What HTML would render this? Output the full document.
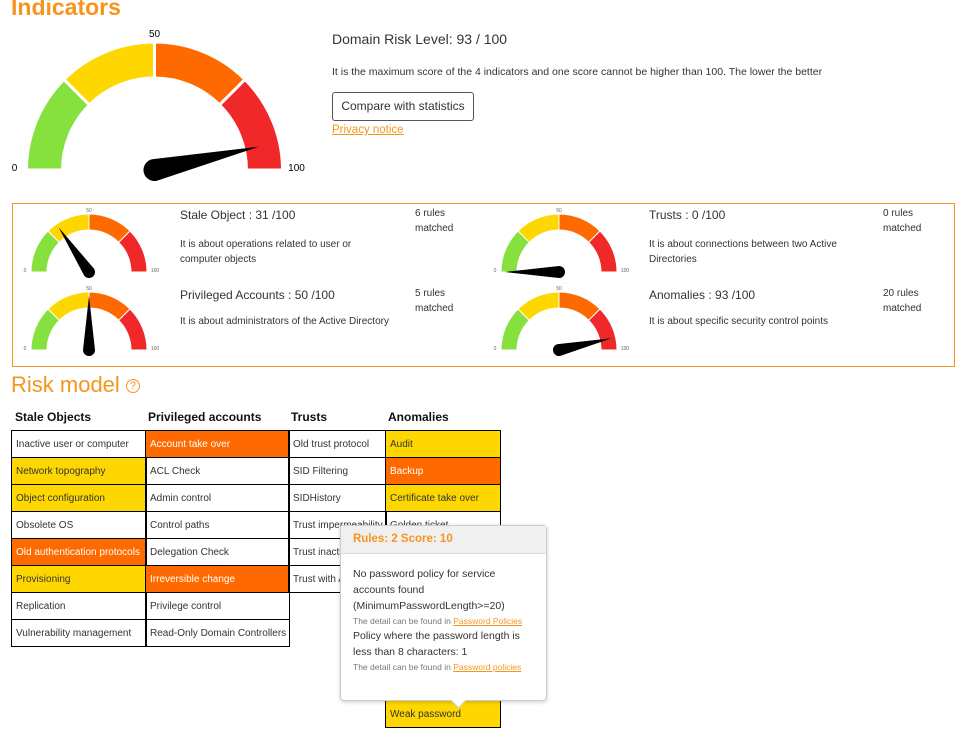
<!DOCTYPE html>
<html><head><meta charset="utf-8">
<style>
body{margin:0;width:963px;height:737px;overflow:hidden;background:#fff;font-family:"Liberation Sans",sans-serif;color:#333;position:relative}
.abs{position:absolute}
h1,h2{margin:0;color:#f7941d;font-weight:normal}
.t{font-size:12px;color:#333}
table{border-collapse:collapse}
td{border:1px solid #000;font-size:10px;height:26px;padding:0 0 0 4px;white-space:nowrap;overflow:hidden;color:#333}
.y{background:#ffd700}.o{background:#ff6a00;color:#fff}
</style></head><body>
<h1 class="abs" style="left:11px;top:-6px;font-size:23px;font-weight:bold">Indicators</h1>
<svg id="gauges" class="abs" style="left:0;top:0" width="963" height="380"></svg>
<div class="abs" style="left:332px;top:31px;font-size:14px">Domain Risk Level: 93 / 100</div>
<div class="abs t" style="left:332px;top:66px;font-size:10.5px">It is the maximum score of the 4 indicators and one score cannot be higher than 100. The lower the better</div>
<div class="abs" style="left:332px;top:92px;width:140px;height:27px;border:1px solid #555;border-radius:3px;font-size:12px;line-height:27px;text-align:center">Compare with statistics</div>
<div class="abs" style="left:332px;top:124px;font-size:11.5px;color:#f7941d;text-decoration:underline">Privacy notice</div>
<div class="abs" style="left:12px;top:203px;width:941px;height:162px;border:1px solid #f7941d"></div>
<div class="abs t" style="left:180px;top:208px;font-size:12px">Stale Object : 31 /100</div>
<div class="abs t" style="left:180px;top:237px;width:200px;font-size:10px;line-height:15px">It is about operations related to user or computer objects</div>
<div class="abs t" style="left:415px;top:206px;font-size:10px;line-height:15px">6 rules<br>matched</div>
<div class="abs t" style="left:180px;top:288px;font-size:12px">Privileged Accounts : 50 /100</div>
<div class="abs t" style="left:180px;top:316px;font-size:10px">It is about administrators of the Active Directory</div>
<div class="abs t" style="left:415px;top:286px;font-size:10px;line-height:15px">5 rules<br>matched</div>
<div class="abs t" style="left:649px;top:208px;font-size:12px">Trusts : 0 /100</div>
<div class="abs t" style="left:649px;top:237px;width:200px;font-size:10px;line-height:15px">It is about connections between two Active Directories</div>
<div class="abs t" style="left:883px;top:206px;font-size:10px;line-height:15px">0 rules<br>matched</div>
<div class="abs t" style="left:649px;top:288px;font-size:12px">Anomalies : 93 /100</div>
<div class="abs t" style="left:649px;top:316px;font-size:10px">It is about specific security control points</div>
<div class="abs t" style="left:883px;top:286px;font-size:10px;line-height:15px">20 rules<br>matched</div>
<h2 class="abs" style="left:11px;top:372px;font-size:22px">Risk model <span style="font-size:11px;border:1.5px solid #f7941d;border-radius:50%;display:inline-block;width:12px;height:12px;line-height:12px;text-align:center;vertical-align:middle">?</span></h2>
<div class="abs" style="left:15px;top:410px;font-size:12px;font-weight:bold;color:#111">Stale Objects</div>
<div class="abs" style="left:148px;top:410px;font-size:12px;font-weight:bold;color:#111">Privileged accounts</div>
<div class="abs" style="left:291px;top:410px;font-size:12px;font-weight:bold;color:#111">Trusts</div>
<div class="abs" style="left:388px;top:410px;font-size:12px;font-weight:bold;color:#111">Anomalies</div>
<div id="tables"></div>
<div class="abs" style="left:340px;top:525px;width:205px;height:174px;border:1px solid #ccc;border-radius:4px;background:#fff;box-shadow:0 1px 4px rgba(0,0,0,.2)">
<div style="background:#f0f0f0;height:27px;border-bottom:1px solid #ddd;color:#f7941d;font-weight:bold;font-size:11.5px;line-height:27px;padding-left:12px">Rules: 2 Score: 10</div>
<div style="padding:12px 12px 0 12px;font-size:10.5px;line-height:16px;color:#333">
<div>No password policy for service accounts found (MinimumPasswordLength&gt;=20)</div>
<div style="font-size:8.5px;color:#777;line-height:14px">The detail can be found in <span style="color:#f7941d;text-decoration:underline">Password Policies</span></div>
<div>Policy where the password length is less than 8 characters: 1</div>
<div style="font-size:8.5px;color:#777;line-height:14px">The detail can be found in <span style="color:#f7941d;text-decoration:underline">Password policies</span></div>
</div>
<div style="position:absolute;left:112px;bottom:-6px;width:10px;height:10px;background:#fff;border-right:1px solid #ccc;border-bottom:1px solid #ccc;transform:rotate(45deg)"></div>
</div>
<script>
const scores=[93,31,50,0,93];
const gaugeNames=['main-gauge','stale-gauge','privileged-gauge','trusts-gauge','anomalies-gauge'];
const bandStops=[0,25,50,75,100];
const bandColors=['#86e13f','#ffd700','#ff6a00','#f0282a'];
const geo=[[154.5,170,128,92,107,11,11],[89,272,58,42,54,6,6],[89,350,58,42,54,6,6],[559,272,58,42,54,6,6],[559,350,58,42,54,6,6]];
const NS='http://www.w3.org/2000/svg';
const svg=document.getElementById('gauges');
function ang(v){return Math.PI*(1-v/100);}
function pt(cx,cy,r,v){return [cx+r*Math.cos(ang(v)),cy-r*Math.sin(ang(v))];}
scores.forEach((s,i)=>{
 const [cx,cy,ro,ri,nl,nb,fs]=geo[i];
 const g=document.createElementNS(NS,'g');
 
 
 for(let k=0;k<4;k++){
  const a=pt(cx,cy,ro,bandStops[k]),b=pt(cx,cy,ro,bandStops[k+1]),c=pt(cx,cy,ri,bandStops[k+1]),d=pt(cx,cy,ri,bandStops[k]);
  const p=document.createElementNS(NS,'path');
  p.setAttribute('d',`M${a}A${ro},${ro} 0 0 1 ${b}L${c}A${ri},${ri} 0 0 0 ${d}Z`);
  p.setAttribute('fill',bandColors[k]);p.setAttribute('stroke','#fff');p.setAttribute('stroke-width',i?1:3);
  
  
  g.appendChild(p);
 }
 const labels=[['0',cx-ro-(i?6:12),cy+(i?0:1)],['50',cx,cy-ro-(i?2:5)],['100',cx+ro+(i?8:14),cy+(i?0:1)]];
 labels.forEach(l=>{const t=document.createElementNS(NS,'text');t.textContent=l[0];t.setAttribute('x',l[1]);t.setAttribute('y',l[2]);t.setAttribute('font-size',i?5:10);t.setAttribute('text-anchor','middle');t.setAttribute('font-family','Liberation Sans');t.setAttribute('fill',i?'#666':'#000');
 
 
 g.appendChild(t);});
 const a=ang(s),tip=pt(cx,cy,nl,s);
 const px=Math.sin(a)*nb,py=Math.cos(a)*nb;
 const n=document.createElementNS(NS,'path');
 n.setAttribute('d',`M${cx-px},${cy-py}L${tip}L${cx+px},${cy+py}A${nb},${nb} 0 1 1 ${cx-px},${cy-py}Z`);
 n.setAttribute('fill','#000');
 
 
 g.appendChild(n);
 svg.appendChild(g);
});
const cols=[
 {x:11,w:134,cells:[['Inactive user or computer',''],['Network topography','y'],['Object configuration','y'],['Obsolete OS',''],['Old authentication protocols','o'],['Provisioning','y'],['Replication',''],['Vulnerability management','']]},
 {x:145,w:143,cells:[['Account take over','o'],['ACL Check',''],['Admin control',''],['Control paths',''],['Delegation Check',''],['Irreversible change','o'],['Privilege control',''],['Read-Only Domain Controllers','']]},
 {x:288,w:97,cells:[['Old trust protocol',''],['SID Filtering',''],['SIDHistory',''],['Trust impermeability',''],['Trust inactive',''],['Trust with Azure','']]},
 {x:385,w:114,cells:[['Audit','y'],['Backup','o'],['Certificate take over','y'],['Golden ticket',''],['Local group membership',''],['Network sniffing',''],['Pass-the-credential',''],['Password retrieval',''],['Reconnaissance',''],['Temporary admins',''],['Weak password','y']]}
];
const host=document.getElementById('tables');
cols.forEach((c,ci)=>{
 const t=document.createElement('table');
 t.className='abs';t.style.left=c.x+'px';t.style.top='430px';t.style.width=(c.w+1)+'px';t.style.tableLayout='fixed';
 
 
 c.cells.forEach(cell=>{
  const tr=document.createElement('tr');const td=document.createElement('td');
  td.textContent=cell[0];td.className=cell[1];td.style.width=(c.w-4)+'px';
  
  
  tr.appendChild(td);t.appendChild(tr);
 });
 host.appendChild(t);
});
</script>
</body></html>
